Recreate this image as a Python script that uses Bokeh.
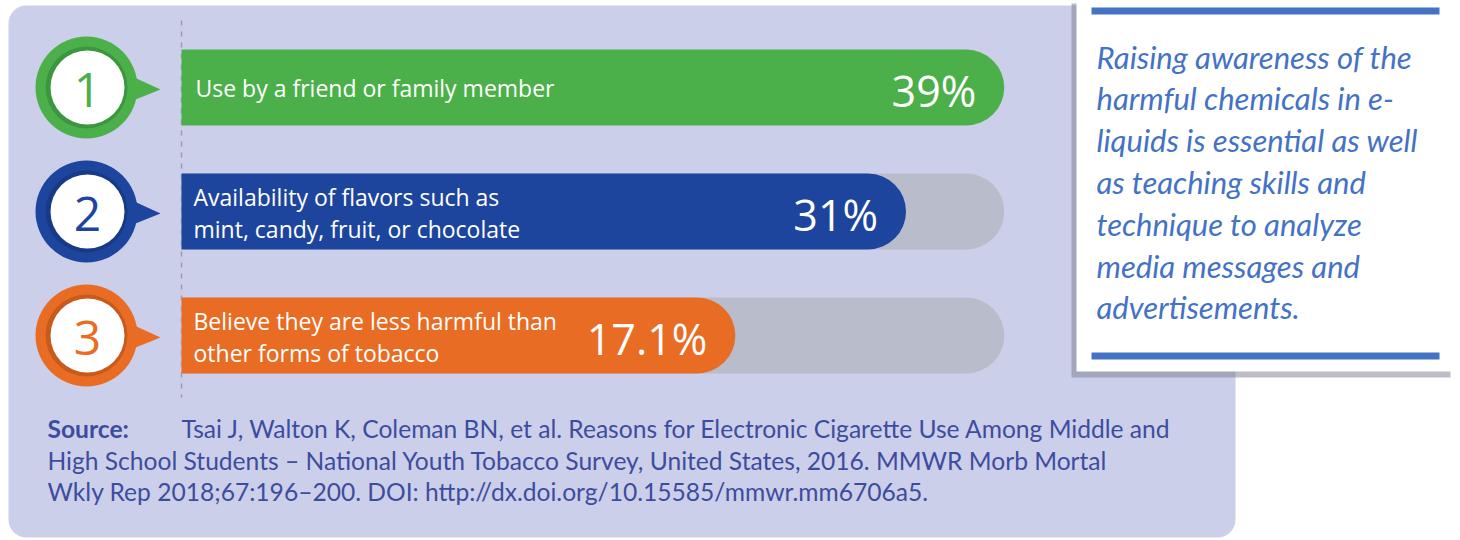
from bokeh.plotting import figure
from bokeh.models import Range1d
from bokeh.core.properties import value
from bokeh.embed import file_html
from bokeh.resources import INLINE

# ---------------- data ----------------
ranks = ["1", "2", "3"]
reason_line1 = ["Use by a friend or family member",
                "Availability of flavors such as",
                "Believe they are less harmful than"]
reason_line2 = ["",
                "mint, candy, fruit, or chocolate",
                "other forms of tobacco"]
percents = [39, 31, 17.1]
pct_labels = ["39%", "31%", "17.1%"]
bar_colors = ["#4cb04a", "#1e459d", "#e96c24"]
ring_dark = ["#3c9640", "#163a86", "#c85a1c"]

note_lines = ["Raising awareness of the",
              "harmful chemicals in e-",
              "liquids is essential as well",
              "as teaching skills and",
              "technique to analyze",
              "media messages and",
              "advertisements."]
source_label = "Source:"
source_lines = ["Tsai J, Walton K, Coleman BN, et al. Reasons for Electronic Cigarette Use Among Middle and",
                "High School Students \u2013 National Youth Tobacco Survey, United States, 2016. MMWR Morb Mortal",
                "Wkly Rep 2018;67:196\u2013200. DOI: http://dx.doi.org/10.15585/mmwr.mm6706a5."]

# ---------------- layout ----------------
W, H = 1460, 540
PX_PER = 12.28          # pixels per percentage point
BASE = -28.0            # value at which bars start
BAR_X_PX = 181
X0 = BASE - BAR_X_PX / PX_PER
X1 = X0 + W / PX_PER
ROW_Y = [87, 211, 335]
BAR_H = 76

p = figure(width=W, height=H, output_backend="svg", toolbar_location=None,
           x_range=Range1d(X0, X1), y_range=Range1d(H, 0),
           min_border=0, x_axis_type=None, y_axis_type=None)
p.extra_x_ranges = {"px": Range1d(0, W)}
p.grid.visible = False
p.outline_line_color = None
p.background_fill_color = "white"
p.border_fill_color = "white"

# panel background
p.quad(left=[8], right=[1235], top=[5], bottom=[537], x_range_name="px",
       fill_color="#cccfe9", line_color=None, border_radius=18)

# dashed guide line
p.segment(x0=[BAR_X_PX], x1=[BAR_X_PX], y0=[20], y1=[397], x_range_name="px",
          line_color="#9a9aa8", line_width=1.5, line_dash="5 6")

# grey tracks
track_max = max(percents)
p.hbar(y=ROW_Y[1:], left=BASE, right=[track_max] * 2, height=BAR_H,
       fill_color="#b9bccb", line_color=None, border_radius=(0, 38, 38, 0))

# coloured bars
p.hbar(y=ROW_Y, left=BASE, right=percents, height=BAR_H,
       fill_color=bar_colors, line_color=None, border_radius=(0, 38, 38, 0))

# percent labels
p.text(x=percents, y=[y + 3 for y in ROW_Y], text=pct_labels, x_offset=-28,
       text_align="right", text_baseline="middle", text_color="white",
       text_font=value("Open Sans"), text_font_size="43px")

# bar labels
LBL_FS = "23px"
single = [i for i in range(3) if not reason_line2[i]]
double = [i for i in range(3) if reason_line2[i]]
p.text(x=[195] * len(single), y=[ROW_Y[i] for i in single],
       text=[reason_line1[i] for i in single], x_range_name="px",
       text_align="left", text_baseline="middle", text_color="white",
       text_font=value("Open Sans"), text_font_size=LBL_FS)
p.text(x=[193] * len(double), y=[ROW_Y[i] - 15 for i in double],
       text=[reason_line1[i] for i in double], x_range_name="px",
       text_align="left", text_baseline="middle", text_color="white",
       text_font=value("Open Sans"), text_font_size=LBL_FS)
p.text(x=[193] * len(double), y=[ROW_Y[i] + 17 for i in double],
       text=[reason_line2[i] for i in double], x_range_name="px",
       text_align="left", text_baseline="middle", text_color="white",
       text_font=value("Open Sans"), text_font_size=LBL_FS)

# number badges
CX = 86
tri_xs = [[125, 160, 125] for _ in ROW_Y]
tri_ys = [[y - 14, y + 2, y + 16] for y in ROW_Y]
p.patches(xs=tri_xs, ys=tri_ys, x_range_name="px", fill_color=bar_colors, line_color=None)
p.circle(x=[CX] * 3, y=ROW_Y, radius=51, radius_units="screen", x_range_name="px",
         fill_color=bar_colors, line_color=None)
p.circle(x=[CX] * 3, y=ROW_Y, radius=41, radius_units="screen", x_range_name="px",
         fill_color=ring_dark, line_color=None)
p.circle(x=[CX + 1] * 3, y=ROW_Y, radius=37, radius_units="screen", x_range_name="px",
         fill_color="white", line_color=None)
p.text(x=[CX + 1] * 3, y=[y + 2 for y in ROW_Y], text=ranks, x_range_name="px",
       text_align="center", text_baseline="middle", text_color=bar_colors,
       text_font=value("Open Sans"), text_font_size="48px")

# source text
SRC_Y = [428, 460, 491]
SRC_FS = "24.6px"
p.text(x=[47], y=[SRC_Y[0]], text=[source_label], x_range_name="px",
       text_align="left", text_baseline="middle", text_color="#3c4d9f",
       text_font=value("Lato"), text_font_style="bold", text_font_size=SRC_FS)
p.text(x=[181, 47, 47], y=SRC_Y, text=source_lines, x_range_name="px",
       text_align="left", text_baseline="middle", text_color="#3c4d9f",
       text_font=value("Lato"), text_font_size=SRC_FS)

# note box
p.quad(left=[1071], right=[1450], top=[3], bottom=[377], x_range_name="px",
       fill_color="#7a7c90", fill_alpha=0.5, line_color=None)
p.quad(left=[1076], right=[1458], top=[0], bottom=[371], x_range_name="px",
       fill_color="white", line_color=None)
p.quad(left=[1091, 1091], right=[1439, 1439], top=[7, 352], bottom=[14, 359],
       x_range_name="px", fill_color="#4472c4", line_color=None)
NOTE_Y = [56 + 41.8 * i for i in range(len(note_lines))]
p.text(x=[1096] * len(note_lines), y=NOTE_Y, text=note_lines, x_range_name="px",
       text_align="left", text_baseline="middle", text_color="#4472c4",
       text_font=value("Lato"), text_font_style="italic", text_font_size="31px")

open("out.html", "w").write(file_html(p, INLINE))
